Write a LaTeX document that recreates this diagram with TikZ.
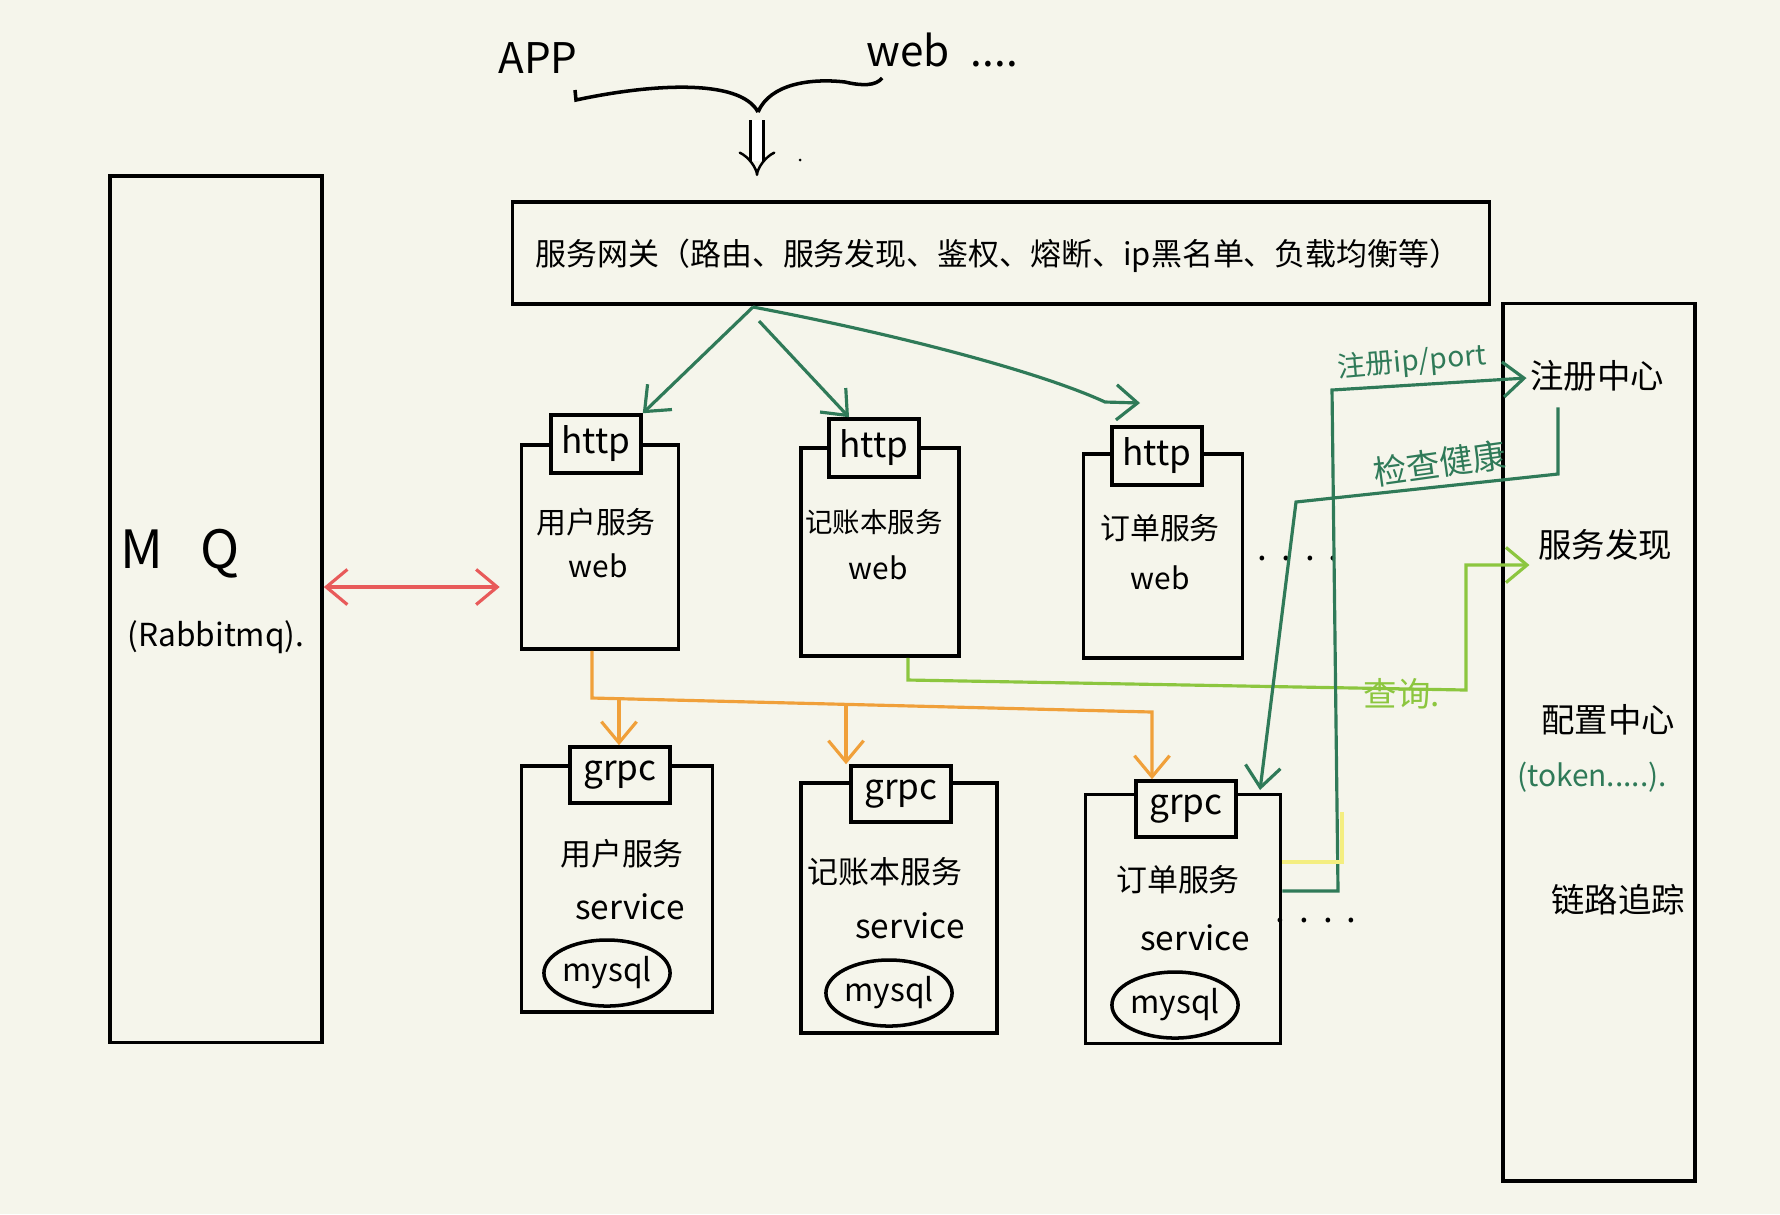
\documentclass[tikz,border=0pt]{standalone}
\usepackage{fontspec}
\setmainfont{Noto Sans CJK SC}
\usetikzlibrary{arrows.meta,calc,shapes.geometric}
\definecolor{paper}{HTML}{F5F5EB}
\definecolor{dgreen}{HTML}{2F7A58}
\definecolor{lgreen}{HTML}{8CC63F}
\definecolor{orng}{HTML}{F0A03A}
\definecolor{redl}{HTML}{E85A5A}
\definecolor{yell}{HTML}{F4EE80}
\begin{document}
\begin{tikzpicture}[x=0.01cm,y=-0.01cm,
  ink/.style={draw=black,line width=1pt},
  box/.style={ink,rectangle,inner sep=0pt},
  tabbox/.style={ink,fill=paper,inner sep=0pt,minimum width=0.9cm,minimum height=0.58cm,font=\fontsize{10}{11}\selectfont},
  gtabbox/.style={tabbox,minimum width=1.0cm,minimum height=0.56cm},
  lbl/.style={inner sep=0pt,font=\fontsize{8.5}{10}\selectfont,align=center},
  slbl/.style={inner sep=0pt,font=\fontsize{8.8}{10}\selectfont,align=center},
  big/.style={inner sep=0pt,font=\fontsize{9.5}{11}\selectfont},
  db/.style={ink,ellipse,minimum width=1.08cm,minimum height=0.66cm,inner sep=0pt,font=\fontsize{9}{10}\selectfont},
  arr/.style={-{Straight Barb[length=6pt,width=10pt]},line width=0.9pt},
  darr/.style={{Straight Barb[length=6pt,width=10pt]}-{Straight Barb[length=6pt,width=10pt]},line width=0.9pt},
]
\fill[paper] (0,0) rectangle (1780,1214);
\useasboundingbox (0,0) rectangle (1780,1214);

% top
\node[inner sep=0pt,font=\fontsize{12}{14}\selectfont] (app) at (538,58) {APP};
\node[inner sep=0pt,font=\fontsize{12}{14}\selectfont,anchor=west] (webc) at (866,50) {web\hspace{0.5em}....};
\draw[ink] (575,90) -- (576,100) .. controls (650,84) and (740,78) .. (758,112);
\draw[ink] (758,112) .. controls (770,84) and (810,78) .. (845,82) .. controls (862,86) and (876,86) .. (882,78);
\draw[line width=0.7pt,double,double distance=3pt,-Implies] (757,120) -- (757,176);
\fill (800,160) circle (1.5);

% MQ
\node[box,minimum width=2.12cm,minimum height=8.66cm] (mq) at (216,609) {};
\node[inner sep=0pt,font=\fontsize{15}{16}\selectfont] (mqt) at (180,554) {M\hspace{0.7em}Q};
\node[inner sep=0pt,font=\fontsize{9}{10}\selectfont] (mqs) at (216,637) {(Rabbitmq).};

% gateway
\node[box,minimum width=9.76cm,minimum height=1.02cm] (gw) at (1001,253) {};
\node[inner sep=0pt,font=\fontsize{8.8}{10}\selectfont] (gwt) at (998,256) {服务网关（路由、服务发现、鉴权、熔断、ip黑名单、负载均衡等）};

% web boxes
\node[box,minimum width=1.57cm,minimum height=2.04cm] (web1) at (600,547) {};
\node[tabbox] (tab1) at (596,444) {http};
\node[lbl] (web1t) at (596,522) {用户服务};
\node[lbl] (web1w) at (598,566) {web};

\node[box,minimum width=1.58cm,minimum height=2.08cm] (web2) at (880,552) {};
\node[tabbox] (tab2) at (874,448) {http};
\node[lbl,font=\fontsize{7.8}{9}\selectfont] (web2t) at (874,522) {记账本服务};
\node[lbl] (web2w) at (878,568) {web};

\node[box,minimum width=1.59cm,minimum height=2.04cm] (web3) at (1163,556) {};
\node[tabbox] (tab3) at (1157,456) {http};
\node[lbl] (web3t) at (1160,528) {订单服务};
\node[lbl] (web3w) at (1160,578) {web};
\node[inner sep=0pt] (dots1) at (1298,558) {.\hspace{0.4em}.\hspace{0.4em}.\hspace{0.4em}.};

% service boxes
\node[box,minimum width=1.91cm,minimum height=2.46cm] (svc1) at (617,889) {};
\node[gtabbox] (gtab1) at (620,775) {grpc};
\node[slbl] (svc1t) at (622,854) {用户服务};
\node[slbl,font=\fontsize{9.5}{11}\selectfont] (svc1s) at (630,907) {service};
\node[db] (db1) at (607,973) {mysql};

\node[box,minimum width=1.96cm,minimum height=2.5cm] (svc2) at (899,908) {};
\node[gtabbox] (gtab2) at (901,794) {grpc};
\node[slbl] (svc2t) at (885,872) {记账本服务};
\node[slbl,font=\fontsize{9.5}{11}\selectfont] (svc2s) at (910,926) {service};
\node[db] (db2) at (889,993) {mysql};

\node[box,minimum width=1.95cm,minimum height=2.49cm] (svc3) at (1183,919) {};
\node[gtabbox] (gtab3) at (1186,809) {grpc};
\node[slbl] (svc3t) at (1178,880) {订单服务};
\node[slbl,font=\fontsize{9.5}{11}\selectfont] (svc3s) at (1195,938) {service};
\node[db] (db3) at (1175,1005) {mysql};
\node[inner sep=0pt] (dots2) at (1316,920) {.\hspace{0.4em}.\hspace{0.4em}.\hspace{0.4em}.};

% right column
\node[box,minimum width=1.92cm,minimum height=8.77cm] (rc) at (1599,742) {};
\node[big] (regc) at (1597,376) {注册中心};
\node[big] (sd) at (1605,545) {服务发现};
\node[big] (cfg) at (1608,720) {配置中心};
\node[inner sep=0pt,text=dgreen,font=\fontsize{8.5}{10}\selectfont] (tok) at (1592,777) {(token.....).};
\node[big] (trace) at (1618,900) {链路追踪};

% red MQ link
\coordinate (ry) at (0,587);
\draw[redl,darr] (mq.east |- ry) -- ($(web1.west |- ry)+(-20,0)$);

% gateway -> web
\coordinate (gsplit) at (753,307);
\coordinate (t3in) at (1140,403);
\draw[dgreen,arr] (gsplit) -- (tab1.north east);
\draw[dgreen,arr] ($(gsplit)+(6,14)$) -- ($(tab2.north)+(-25,0)$);
\draw[dgreen,arr] (gsplit) .. controls (900,335) and (1040,372) .. (1105,402) -- (t3in);

% orange web -> grpc
\coordinate (ob) at (592,698);
\coordinate (o3) at (1152,712);
\coordinate (ob1) at (619,699);
\coordinate (ob2) at (846,705);
\draw[orng,arr] (web1.south -| ob) -- (ob) -- (o3) -- (gtab3.north -| o3);
\draw[orng,arr] (ob1) -- (gtab1.north -| ob1);
\draw[orng,arr] (ob2) -- (gtab2.north -| ob2);

% light green query
\coordinate (lg1) at (908,680);
\coordinate (lg2) at (1466,690);
\draw[lgreen,arr] (web2.south -| lg1) -- (lg1) -- (lg2) |- ($(sd.west)+(-8,20)$);
\node[inner sep=0pt,text=lgreen,font=\fontsize{9.5}{11}\selectfont] (lq) at (1402,694) {查询.};

% register ip/port
\coordinate (dg1) at (1338,891);
\coordinate (dg2) at (1332,390);
\draw[dgreen,arr] (svc3.east |- dg1) -- (dg1) -- (dg2) -- ($(regc.west)+(-3,2)$);
\node[inner sep=0pt,text=dgreen,rotate=5,font=\fontsize{8}{9}\selectfont] (lreg) at (1412,362) {注册ip/port};

% health check
\coordinate (h1) at (1558,474);
\coordinate (h2) at (1296,502);
\coordinate (h3) at (1260,790);
\draw[dgreen,arr] ($(regc.south -| h1)+(0,15)$) -- (h1) -- (h2) -- (h3);
\node[inner sep=0pt,text=dgreen,rotate=8,font=\fontsize{9.5}{11}\selectfont] (lhc) at (1440,463) {检查健康};

% yellow
\coordinate (y1) at (1342,862);
\draw[yell,line width=1.3pt] (svc3.east |- y1) -- (y1) -- ++(0,-50);
\end{tikzpicture}
\end{document}
